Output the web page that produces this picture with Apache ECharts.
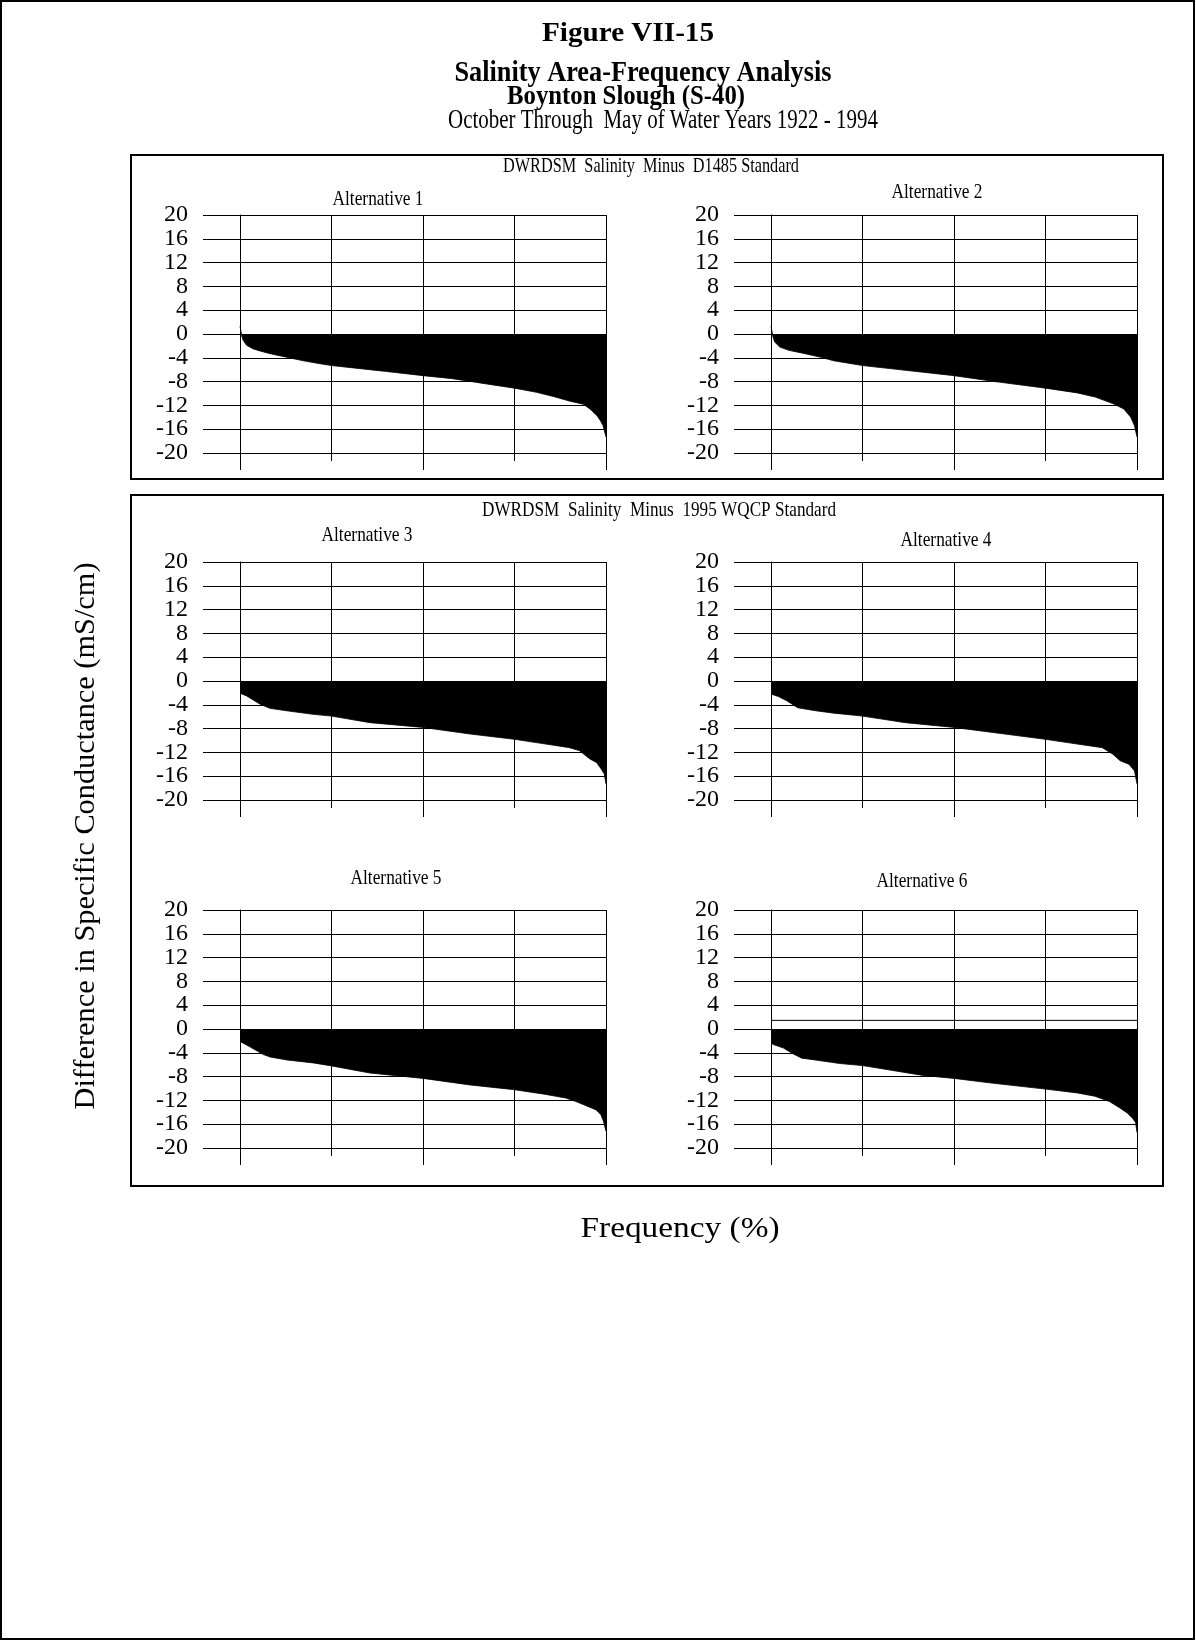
<!DOCTYPE html>
<html>
<head>
<meta charset="utf-8">
<script src="https://cdn.jsdelivr.net/npm/echarts@6/dist/echarts.min.js"></script>
<style>
  html, body { margin: 0; padding: 0; background: #fff; }
  #chart { width: 1196px; height: 1641px; }
</style>
</head>
<body>
<div id="chart"></div>
<script>
// Exceedance curves: DWRDSM salinity minus standard (mS/cm) vs frequency (%)
const panelTitles = ['Alternative 1', 'Alternative 2', 'Alternative 3',
                     'Alternative 4', 'Alternative 5', 'Alternative 6'];

const alt1Freq = [0, 0.4, 0.55, 0.9, 1.8, 3.6, 5.5, 8.2, 12.7, 17.3, 21.9, 25, 31, 40, 50, 58, 67.4, 75, 81, 85.6, 90.2, 93.8, 95.6, 97.5, 98.4, 99.2, 99.7, 100];
const alt1Diff = [1.3, 1.3, -0.5, -1.1, -1.9, -2.5, -2.86, -3.3, -3.9, -4.5, -5.0, -5.3, -5.7, -6.3, -7.0, -7.5, -8.4, -9.1, -9.8, -10.5, -11.3, -11.8, -12.6, -13.7, -14.5, -15.4, -15.6, -17.3];

const alt2Freq = [0, 0.4, 0.55, 1.0, 2.4, 4.9, 9.3, 14.2, 17.1, 25, 36.7, 50, 61.2, 75, 83.7, 88.6, 93.4, 96.4, 98.3, 99.3, 99.8, 100];
const alt2Diff = [1.3, 1.3, -0.5, -1.35, -2.2, -2.75, -3.3, -4.0, -4.5, -5.3, -6.1, -7.0, -8.0, -9.1, -9.9, -10.6, -11.7, -12.6, -14.0, -15.4, -15.6, -17.3];

const alt3Freq = [0, 1.8, 3.6, 5.5, 8.2, 12.7, 20, 25, 35.5, 50, 62.8, 75, 83.6, 90, 92.7, 95.6, 97.4, 98.7, 99.5, 99.8, 100];
const alt3Diff = [-2.05, -2.5, -3.2, -3.9, -4.6, -5.0, -5.6, -5.9, -7.0, -7.8, -8.9, -9.8, -10.6, -11.2, -11.7, -13.1, -13.7, -14.8, -15.6, -15.7, -17.3];

const alt4Freq = [0, 2, 4.4, 7.3, 12.2, 17.1, 25, 36.7, 50, 61.2, 75, 83.7, 90.5, 93.4, 95.4, 97.8, 99.3, 99.8, 100];
const alt4Diff = [-2.2, -2.6, -3.35, -4.5, -5.0, -5.4, -5.9, -7.0, -7.8, -8.7, -9.8, -10.6, -11.2, -12.3, -13.4, -14.0, -15.1, -15.3, -17.3];

const alt5Freq = [0, 2.7, 6.4, 8.2, 12.8, 20, 25, 35.5, 50, 62.8, 75, 83.6, 89, 91.8, 94.6, 97.3, 98.6, 99.3, 99.8, 100];
const alt5Diff = [-2.1, -3.0, -4.3, -4.7, -5.2, -5.7, -6.2, -7.4, -8.3, -9.4, -10.2, -11.0, -11.6, -12.2, -12.9, -13.6, -14.4, -15.5, -15.7, -17.2];

const alt6Freq = [0, 0.6, 3.4, 6.1, 8.4, 11.5, 18.8, 25, 32.5, 41.5, 50, 59.7, 75, 83.7, 88.5, 92.5, 95.4, 97.3, 98.8, 99.6, 100];
const alt6Diff = [-2.35, -2.6, -3.2, -4.2, -4.9, -5.15, -5.8, -6.15, -6.9, -7.8, -8.3, -9.05, -10.1, -10.75, -11.3, -12.2, -13.3, -14.1, -15.0, -15.7, -17.4];

// Horizontal level line shown in the Alternative 6 panel
const alt6LevelFreq = [0, 100];
const alt6LevelDiff = [1.45, 1.45];

// Axis scales
const yMin = -20, yMax = 20, yStep = 4;
const xMin = 0, xMax = 100, xStep = 50;

const curves = [
  [alt1Freq, alt1Diff], [alt2Freq, alt2Diff], [alt3Freq, alt3Diff],
  [alt4Freq, alt4Diff], [alt5Freq, alt5Diff], [alt6Freq, alt6Diff]
];

const FONT = '"Liberation Serif", serif';

// Panel plot areas (left, top) and sizes
const colLeft = [240, 771];
const rowTop = [215, 562, 910];
const plotW = 366, plotH = 238;

// Title placement per panel: centre x, cap-centre y
const titlePos = [[378, 199], [937, 192], [367, 535], [946, 540], [396, 878], [922, 881]];

const measureCtx = document.createElement('canvas').getContext('2d');
function fitScale(text, size, weight, width) {
  measureCtx.font = weight + ' ' + size + 'px ' + FONT;
  return width / measureCtx.measureText(text).width;
}
function textEl(text, cx, cy, size, weight, width, rotation) {
  return {
    type: 'text', x: cx, y: cy, rotation: rotation || 0,
    scaleX: width ? fitScale(text, size, weight, width) : 1,
    silent: true, z: 20,
    style: {
      text: text, fontSize: size, fontWeight: weight, fontFamily: FONT,
      fill: '#000', align: 'center', verticalAlign: 'middle'
    }
  };
}
function boxEl(x, y, w, h, lw) {
  return {
    type: 'rect', silent: true, z: 5,
    shape: { x: x, y: y, width: w, height: h },
    style: { fill: 'none', stroke: '#000', lineWidth: lw }
  };
}

// The tick labels are tightly packed, so alternate ticks are labelled by two
// overlaid value axes sharing the same scale.
function tickParity(v) { return Math.round((v - yMin) / yStep) % 2; }
function labelAxis(gridIndex, parity) {
  return {
    type: 'value', gridIndex: gridIndex, min: yMin, max: yMax, interval: yStep,
    position: 'left', offset: 0,
    axisLine: { show: false }, axisTick: { show: false }, splitLine: { show: false },
    axisLabel: {
      show: true, margin: 52, color: '#000', fontSize: 24, fontFamily: FONT,
      showMinLabel: parity === 0, showMaxLabel: parity === 0,
      formatter: v => (tickParity(v) === parity ? String(v) : '')
    }
  };
}

const grids = [], xAxes = [], yAxes = [], series = [];
const lineStyle = { color: '#000', width: 1 };

for (let i = 0; i < 6; i++) {
  const col = i % 2, row = Math.floor(i / 2);
  grids.push({ left: colLeft[col], top: rowTop[row], width: plotW, height: plotH, containLabel: false });
  xAxes.push({
    type: 'value', gridIndex: i, min: xMin, max: xMax, interval: xStep,
    axisLabel: { show: false },
    axisLine: { show: true, onZero: false, lineStyle: lineStyle },
    axisTick: { show: true, length: 17, lineStyle: lineStyle },
    minorTick: { show: true, splitNumber: 2, length: 8, lineStyle: lineStyle },
    splitLine: { show: true, lineStyle: lineStyle },
    minorSplitLine: { show: true, lineStyle: lineStyle }
  });
  // main value axis: line, ticks and grid; labels come from the two label axes
  const lab0 = labelAxis(i, 0);
  lab0.axisLine = { show: true, onZero: false, lineStyle: lineStyle };
  lab0.axisTick = { show: true, length: 37, lineStyle: lineStyle };
  lab0.splitLine = { show: true, lineStyle: lineStyle };
  yAxes.push(lab0);
  yAxes.push(labelAxis(i, 1));
  const [fq, df] = curves[i];
  series.push({
    type: 'line', name: panelTitles[i], xAxisIndex: i, yAxisIndex: 2 * i,
    data: fq.map((f, k) => [f, df[k]]),
    symbol: 'none', silent: true, z: 3,
    lineStyle: { color: '#000', width: 0.8 },
    areaStyle: { color: '#000', opacity: 1 }
  });
}
series.push({
  type: 'line', xAxisIndex: 5, yAxisIndex: 10, symbol: 'none', silent: true, z: 3,
  data: alt6LevelFreq.map((f, k) => [f, alt6LevelDiff[k]]),
  lineStyle: { color: '#000', width: 1 }
});

const graphics = [
  boxEl(1, 1, 1193, 1638, 2),
  boxEl(131, 155, 1032, 324, 2),
  boxEl(131, 495, 1032, 691, 2),
  textEl('Figure VII-15', 628, 34, 28, 'bold', 172),
  textEl('Salinity Area-Frequency Analysis', 643, 73, 30, 'bold', 377),
  textEl('Boynton Slough (S-40)', 626, 97, 28, 'bold', 238),
  textEl('October Through  May of Water Years 1922 - 1994', 663, 121, 27, 'normal', 430),
  textEl('DWRDSM  Salinity  Minus  D1485 Standard', 651, 166, 21, 'normal', 296),
  textEl('DWRDSM  Salinity  Minus  1995 WQCP Standard', 659, 510, 21, 'normal', 354),
  textEl('Difference in Specific Conductance (mS/cm)', 86, 836, 30, 'normal', 547, Math.PI / 2),
  textEl('Frequency (%)', 680, 1229, 30, 'normal', 199)
];
panelTitles.forEach((t, i) => {
  graphics.push(textEl(t, titlePos[i][0], titlePos[i][1], 22, 'normal', 91));
});

const chart = echarts.init(document.getElementById('chart'), null, { renderer: 'canvas' });
chart.setOption({
  animation: false,
  backgroundColor: '#fff',
  grid: grids,
  xAxis: xAxes,
  yAxis: yAxes,
  series: series,
  graphic: graphics
});
</script>
</body>
</html>
